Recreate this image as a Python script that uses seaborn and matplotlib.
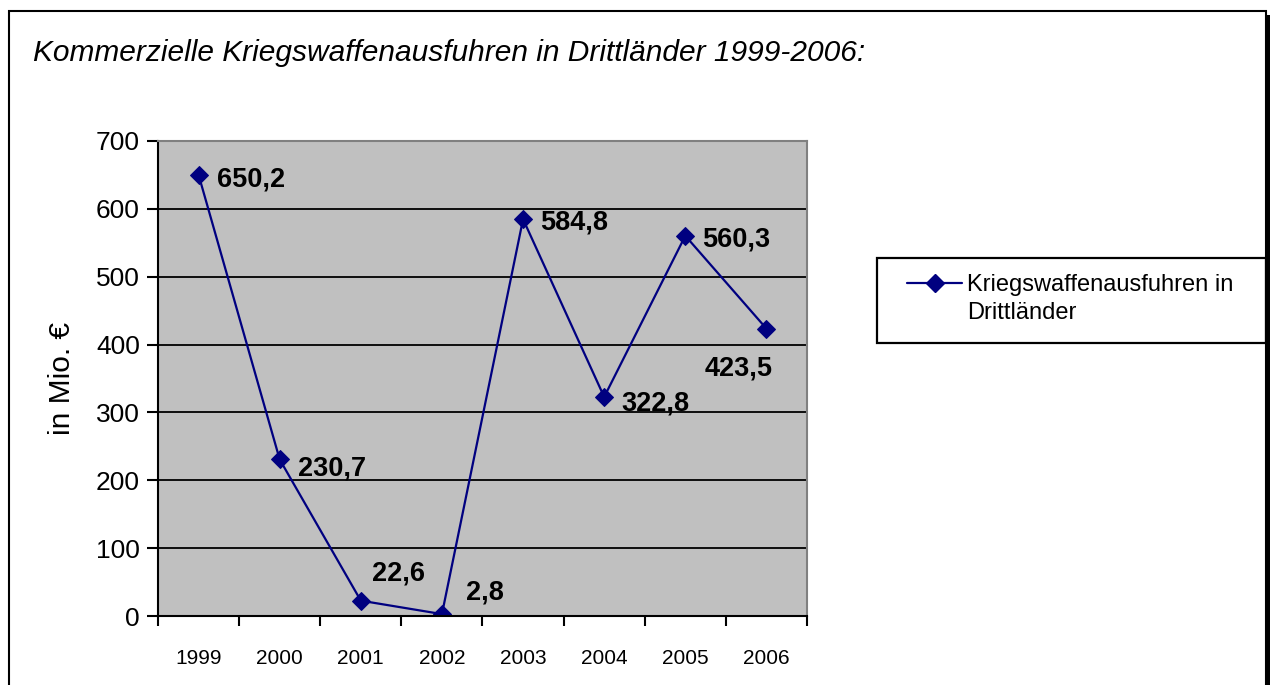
import pandas as pd
import matplotlib.pyplot as plt
import seaborn as sns
from matplotlib.patches import Rectangle
from matplotlib.lines import Line2D

# data
years = ["1999", "2000", "2001", "2002", "2003", "2004", "2005", "2006"]
values = [650.2, 230.7, 22.6, 2.8, 584.8, 322.8, 560.3, 423.5]
labels = ["650,2", "230,7", "22,6", "2,8", "584,8", "322,8", "560,3", "423,5"]
# label offsets in pixels (dx, dy)
offsets = [(18, -5), (18, -9), (11, 27), (24, 22), (17, -3), (17, -7), (17, -4), (-62, -40)]

df = pd.DataFrame({"pos": range(len(years)), "value": values})

sns.set_style("white")
plt.rcParams["font.family"] = ["Liberation Sans", "DejaVu Sans"]
plt.rcParams["text.color"] = "black"
plt.rcParams["axes.labelcolor"] = "black"
plt.rcParams["xtick.color"] = "black"
plt.rcParams["ytick.color"] = "black"

W, H = 1270, 685
fig = plt.figure(figsize=(12.7, 6.85), dpi=100)
ax = fig.add_axes([158 / W, 69 / H, 649 / W, 475 / H])
ax.set_facecolor("#c0c0c0")

navy = "#000080"
sns.lineplot(data=df, x="pos", y="value", ax=ax, color=navy, linewidth=1.6,
             marker="D", markersize=9, markeredgecolor=navy, label="_nolegend_")

for i, (v, lab, (dx, dy)) in enumerate(zip(values, labels, offsets)):
    ax.annotate(lab, (i, v), xytext=(dx, dy), textcoords="offset pixels",
                ha="left", va="center", fontsize=19.5, fontweight="bold")

ax.set_xlim(-0.5, 7.5)
ax.set_ylim(0, 700)
ax.set_yticks(range(0, 701, 100))
ax.yaxis.grid(True, color="black", linewidth=1.3)
ax.set_axisbelow(True)
ax.set_xticks([i - 0.5 for i in range(9)])
ax.set_xticklabels([])
ax.set_xticks(range(8), minor=True)
ax.set_xticklabels(years, minor=True, fontsize=15)
ax.tick_params(axis="x", which="major", direction="out", length=7, width=1.5, bottom=True)
ax.tick_params(axis="x", which="minor", length=0, pad=24)
ax.tick_params(axis="y", direction="out", length=8, width=1.5, left=True, labelsize=19, pad=5)
ax.set_xlabel("")
ax.set_ylabel("in Mio. €", fontsize=21.5)
ax.yaxis.set_label_coords(-(158 - 76) / 649, 0.5)

for s in ["left", "bottom"]:
    ax.spines[s].set_color("black")
    ax.spines[s].set_linewidth(1.5)
for s in ["top", "right"]:
    ax.spines[s].set_color("#808080")
    ax.spines[s].set_linewidth(1.5)

fig.text(33 / W, 1 - 53 / H, "Kommerzielle Kriegswaffenausfuhren in Drittländer 1999-2006:",
         fontsize=21.5, fontstyle="italic", va="center", ha="left")

# legend: frame drawn as a patch, entry via fig.legend, second label line as text
fig.patches.append(Rectangle((877 / W, 1 - 343 / H), (1266 - 877) / W, 85 / H,
                             transform=fig.transFigure, fill=False,
                             edgecolor="black", linewidth=1.6))
handle = Line2D([], [], color=navy, linewidth=1.6, marker="D", markersize=9)
leg = fig.legend([handle], ["Kriegswaffenausfuhren in"], loc="center left",
                 bbox_to_anchor=(907 / W, 1 - 285 / H), frameon=False,
                 fontsize=17, handlelength=2.33, handletextpad=0.2,
                 borderpad=0, borderaxespad=0)
fig.text(967 / W, 1 - 313 / H, "Drittländer", fontsize=17, va="center", ha="left")

# outer frame with shadow on the right
fig.patches.append(Rectangle((9 / W, -0.1), 1257 / W, 1.1 - 11 / H,
                             transform=fig.transFigure, fill=False,
                             edgecolor="black", linewidth=1.5))
fig.patches.append(Rectangle((1266 / W, -0.1), 4 / W, 1.1 - 15 / H,
                             transform=fig.transFigure, facecolor="black", edgecolor="none"))

fig.savefig("out.png", dpi=100)
